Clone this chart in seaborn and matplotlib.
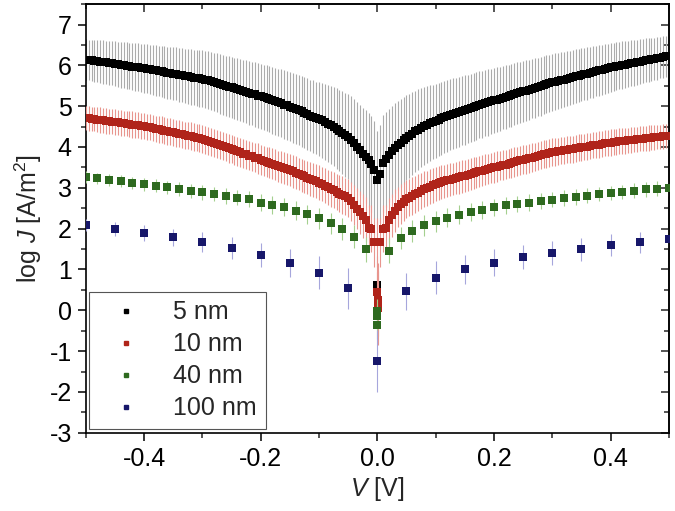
import numpy as np
import pandas as pd
import seaborn as sns
import matplotlib.pyplot as plt
from matplotlib.ticker import MultipleLocator, FormatStrFormatter
from matplotlib.lines import Line2D

# voltage sweeps
v_fine = np.round(np.arange(-100, 101) * 0.005, 3)   # 5 nm and 10 nm
v_40 = np.round(np.arange(-25, 26) * 0.02, 2)
v_100 = np.round(np.arange(-10, 11) * 0.05, 2)

j_5nm = [
    6.14, 6.13, 6.12, 6.11, 6.10, 6.09, 6.08, 6.07, 6.06, 6.05,
    6.04, 6.03, 6.01, 6.00, 5.99, 5.98, 5.97, 5.96, 5.95, 5.94,
    5.93, 5.92, 5.90, 5.89, 5.88, 5.86, 5.85, 5.84, 5.82, 5.81,
    5.80, 5.79, 5.77, 5.76, 5.74, 5.73, 5.72, 5.70, 5.69, 5.68,
    5.67, 5.65, 5.63, 5.61, 5.59, 5.57, 5.55, 5.52, 5.50, 5.48,
    5.46, 5.44, 5.42, 5.40, 5.37, 5.35, 5.33, 5.31, 5.29, 5.26,
    5.24, 5.22, 5.19, 5.17, 5.14, 5.12, 5.09, 5.07, 5.04, 5.02,
    4.99, 4.96, 4.93, 4.90, 4.87, 4.84, 4.80, 4.77, 4.74, 4.71,
    4.68, 4.65, 4.61, 4.57, 4.54, 4.50, 4.45, 4.40, 4.35, 4.30,
    4.25, 4.18, 4.10, 4.01, 3.92, 3.84, 3.76, 3.68, 3.58, 3.43,
    3.20,
    3.35, 3.60, 3.70, 3.80, 3.89, 3.97, 4.04, 4.10, 4.16, 4.23,
    4.28, 4.33, 4.38, 4.42, 4.47, 4.51, 4.55, 4.58, 4.61, 4.64,
    4.67, 4.70, 4.73, 4.76, 4.79, 4.81, 4.84, 4.86, 4.89, 4.91,
    4.93, 4.96, 4.98, 5.00, 5.03, 5.05, 5.07, 5.09, 5.12, 5.14,
    5.16, 5.18, 5.21, 5.23, 5.25, 5.27, 5.29, 5.32, 5.34, 5.36,
    5.38, 5.40, 5.43, 5.45, 5.47, 5.49, 5.51, 5.54, 5.56, 5.58,
    5.60, 5.62, 5.64, 5.65, 5.67, 5.69, 5.71, 5.73, 5.75, 5.77,
    5.78, 5.80, 5.82, 5.84, 5.86, 5.88, 5.89, 5.91, 5.93, 5.95,
    5.96, 5.98, 5.99, 6.01, 6.02, 6.03, 6.05, 6.06, 6.08, 6.09,
    6.10, 6.12, 6.13, 6.15, 6.16, 6.17, 6.19, 6.20, 6.22, 6.23,
]
err_5nm = [
    0.50, 0.50, 0.51, 0.51, 0.52, 0.52, 0.53, 0.53, 0.54, 0.54,
    0.55, 0.55, 0.56, 0.56, 0.57, 0.57, 0.58, 0.58, 0.59, 0.59,
    0.60, 0.60, 0.61, 0.61, 0.62, 0.62, 0.63, 0.63, 0.64, 0.64,
    0.65, 0.65, 0.66, 0.66, 0.67, 0.67, 0.68, 0.68, 0.69, 0.69,
    0.70, 0.70, 0.71, 0.71, 0.72, 0.72, 0.73, 0.73, 0.74, 0.74,
    0.75, 0.75, 0.76, 0.76, 0.77, 0.77, 0.78, 0.78, 0.79, 0.79,
    0.80, 0.80, 0.81, 0.81, 0.82, 0.82, 0.83, 0.83, 0.84, 0.84,
    0.85, 0.85, 0.86, 0.86, 0.87, 0.87, 0.88, 0.88, 0.89, 0.89,
    0.90, 0.91, 0.93, 0.94, 0.96, 0.97, 0.99, 1.00, 1.01, 1.03,
    1.04, 1.06, 1.07, 1.09, 1.10, 1.12, 1.14, 1.16, 1.18, 1.20,
    1.20,
    1.20, 1.18, 1.16, 1.14, 1.12, 1.10, 1.09, 1.07, 1.06, 1.04,
    1.03, 1.01, 1.00, 0.99, 0.97, 0.96, 0.94, 0.93, 0.91, 0.90,
    0.89, 0.89, 0.88, 0.88, 0.87, 0.87, 0.86, 0.86, 0.85, 0.85,
    0.84, 0.84, 0.83, 0.83, 0.82, 0.82, 0.81, 0.81, 0.80, 0.80,
    0.79, 0.79, 0.78, 0.78, 0.77, 0.77, 0.76, 0.76, 0.75, 0.75,
    0.74, 0.74, 0.73, 0.73, 0.72, 0.72, 0.71, 0.71, 0.70, 0.70,
    0.69, 0.69, 0.68, 0.68, 0.67, 0.67, 0.66, 0.66, 0.65, 0.65,
    0.64, 0.64, 0.63, 0.63, 0.62, 0.62, 0.61, 0.61, 0.60, 0.60,
    0.59, 0.59, 0.58, 0.58, 0.57, 0.57, 0.56, 0.56, 0.55, 0.55,
    0.54, 0.54, 0.53, 0.53, 0.52, 0.52, 0.51, 0.51, 0.50, 0.50,
]

j_10nm = [
    4.71, 4.70, 4.69, 4.68, 4.67, 4.66, 4.65, 4.64, 4.63, 4.62,
    4.61, 4.60, 4.59, 4.58, 4.57, 4.56, 4.55, 4.54, 4.53, 4.52,
    4.51, 4.49, 4.48, 4.46, 4.45, 4.43, 4.42, 4.40, 4.39, 4.37,
    4.36, 4.34, 4.32, 4.31, 4.29, 4.28, 4.26, 4.25, 4.23, 4.22,
    4.20, 4.17, 4.15, 4.12, 4.10, 4.07, 4.05, 4.02, 4.00, 3.97,
    3.95, 3.92, 3.89, 3.87, 3.84, 3.82, 3.79, 3.77, 3.74, 3.72,
    3.69, 3.66, 3.64, 3.61, 3.59, 3.56, 3.53, 3.51, 3.48, 3.46,
    3.43, 3.40, 3.37, 3.34, 3.31, 3.28, 3.25, 3.22, 3.19, 3.16,
    3.13, 3.09, 3.05, 3.01, 2.98, 2.94, 2.90, 2.86, 2.82, 2.79,
    2.75, 2.67, 2.58, 2.49, 2.40, 2.31, 2.22, 2.02, 2.00, 1.67,
    1.67,
    1.67, 2.00, 2.02, 2.20, 2.33, 2.44, 2.53, 2.60, 2.66, 2.72,
    2.76, 2.80, 2.84, 2.88, 2.92, 2.96, 2.99, 3.03, 3.06, 3.10,
    3.12, 3.14, 3.16, 3.18, 3.20, 3.22, 3.24, 3.26, 3.28, 3.30,
    3.32, 3.34, 3.36, 3.38, 3.40, 3.42, 3.44, 3.46, 3.48, 3.50,
    3.52, 3.54, 3.56, 3.57, 3.59, 3.61, 3.63, 3.65, 3.67, 3.69,
    3.70, 3.72, 3.74, 3.76, 3.78, 3.80, 3.82, 3.83, 3.85, 3.87,
    3.88, 3.89, 3.91, 3.92, 3.93, 3.94, 3.95, 3.97, 3.98, 3.99,
    4.00, 4.01, 4.03, 4.04, 4.05, 4.06, 4.07, 4.09, 4.10, 4.11,
    4.12, 4.13, 4.14, 4.14, 4.15, 4.16, 4.17, 4.18, 4.19, 4.20,
    4.20, 4.21, 4.22, 4.23, 4.24, 4.25, 4.25, 4.26, 4.27, 4.28,
]
err_10nm = [
    0.30, 0.30, 0.30, 0.30, 0.30, 0.31, 0.31, 0.31, 0.31, 0.31,
    0.31, 0.31, 0.31, 0.31, 0.31, 0.32, 0.32, 0.32, 0.32, 0.32,
    0.32, 0.32, 0.32, 0.32, 0.32, 0.32, 0.33, 0.33, 0.33, 0.33,
    0.33, 0.33, 0.33, 0.33, 0.33, 0.33, 0.34, 0.34, 0.34, 0.34,
    0.34, 0.34, 0.34, 0.34, 0.35, 0.35, 0.35, 0.35, 0.35, 0.35,
    0.35, 0.35, 0.36, 0.36, 0.36, 0.36, 0.36, 0.36, 0.36, 0.37,
    0.37, 0.37, 0.37, 0.38, 0.38, 0.38, 0.38, 0.39, 0.39, 0.39,
    0.39, 0.40, 0.40, 0.40, 0.40, 0.41, 0.41, 0.41, 0.41, 0.42,
    0.42, 0.42, 0.43, 0.43, 0.44, 0.44, 0.45, 0.45, 0.46, 0.46,
    0.47, 0.48, 0.49, 0.50, 0.52, 0.53, 0.55, 0.57, 0.58, 0.60,
    0.60,
    0.60, 0.58, 0.57, 0.55, 0.53, 0.52, 0.50, 0.49, 0.48, 0.47,
    0.46, 0.46, 0.45, 0.45, 0.44, 0.44, 0.43, 0.43, 0.42, 0.42,
    0.42, 0.41, 0.41, 0.41, 0.41, 0.40, 0.40, 0.40, 0.40, 0.39,
    0.39, 0.39, 0.39, 0.38, 0.38, 0.38, 0.38, 0.37, 0.37, 0.37,
    0.37, 0.36, 0.36, 0.36, 0.36, 0.36, 0.36, 0.36, 0.35, 0.35,
    0.35, 0.35, 0.35, 0.35, 0.34, 0.34, 0.34, 0.34, 0.34, 0.34,
    0.34, 0.34, 0.33, 0.33, 0.33, 0.33, 0.33, 0.33, 0.33, 0.33,
    0.33, 0.33, 0.32, 0.32, 0.32, 0.32, 0.32, 0.32, 0.32, 0.32,
    0.32, 0.32, 0.32, 0.32, 0.32, 0.31, 0.31, 0.31, 0.31, 0.31,
    0.31, 0.31, 0.31, 0.31, 0.31, 0.30, 0.30, 0.30, 0.30, 0.30,
]

j_40nm = [
    3.27, 3.23, 3.20, 3.16, 3.12, 3.09, 3.05, 3.01, 2.97, 2.93,
    2.89, 2.85, 2.80, 2.76, 2.72, 2.64, 2.58, 2.52, 2.44, 2.35,
    2.25, 2.13, 1.99, 1.80, 1.49,
    -0.35,
    1.46, 1.77, 1.95, 2.08, 2.18, 2.27, 2.34, 2.41, 2.46, 2.52,
    2.57, 2.60, 2.64, 2.68, 2.71, 2.75, 2.78, 2.81, 2.85, 2.87,
    2.90, 2.93, 2.96, 2.98, 2.99,
]
err_40nm = [
    0.14, 0.14, 0.15, 0.15, 0.15, 0.16, 0.16, 0.16, 0.17, 0.17,
    0.18, 0.18, 0.19, 0.19, 0.20, 0.21, 0.21, 0.22, 0.23, 0.24,
    0.25, 0.26, 0.27, 0.28, 0.30,
    0.35,
    0.30, 0.28, 0.27, 0.26, 0.25, 0.24, 0.23, 0.22, 0.22, 0.21,
    0.21, 0.20, 0.20, 0.20, 0.19, 0.19, 0.19, 0.19, 0.18, 0.18,
    0.18, 0.18, 0.18, 0.18, 0.18,
]

j_100nm = [2.09, 1.99, 1.90, 1.79, 1.67, 1.53, 1.36, 1.16, 0.92, 0.54,
           -1.24,
           0.47, 0.80, 1.00, 1.17, 1.30, 1.41, 1.50, 1.59, 1.67, 1.75]
err_100nm = [0.15, 0.17, 0.19, 0.21, 0.24, 0.27, 0.30, 0.34, 0.40, 0.50,
             0.75,
             0.45, 0.40, 0.36, 0.32, 0.30, 0.29, 0.28, 0.27, 0.26, 0.25]

# extra points recorded right at V = 0
v0_5nm, j0_5nm, e0_5nm = [0.0], [0.63], [0.3]
v0_10nm, j0_10nm, e0_10nm = [-0.001, 0.001, 0.002], [0.44, 0.26, 0.06], [0.9, 0.9, 0.9]
v0_40nm, j0_40nm, e0_40nm = [0.0, 0.0], [-0.02, -0.15], [0.3, 0.3]

labels = ["5 nm", "10 nm", "40 nm", "100 nm"]
marker_colors = ["#000000", "#b0241a", "#2e6a1f", "#17176a"]
err_colors = ["#ababab", "#e8958e", "#a4d08f", "#a6a6dc"]
marker_sizes = [32, 38, 28, 28]

sns.set_theme(style="ticks")
plt.rcParams['font.family'] = ['Liberation Sans', 'DejaVu Sans']
plt.rcParams['mathtext.fontset'] = 'custom'
plt.rcParams['mathtext.rm'] = 'Liberation Sans'
plt.rcParams['mathtext.it'] = 'Liberation Sans:italic'
plt.rcParams['axes.unicode_minus'] = False

fig = plt.figure(figsize=(6.75, 5.11), dpi=100)
ax = fig.add_axes([0.127, 0.153, 0.864, 0.839])

series = [
    (list(v_fine) + v0_5nm, j_5nm + j0_5nm, err_5nm + e0_5nm),
    (list(v_fine) + v0_10nm, j_10nm + j0_10nm, err_10nm + e0_10nm),
    (list(v_40) + v0_40nm, j_40nm + j0_40nm, err_40nm + e0_40nm),
    (list(v_100), j_100nm, err_100nm),
]

for k, ((v, j, e), lab, ec) in enumerate(zip(series, labels, err_colors)):
    ax.errorbar(v, j, yerr=e, fmt='none', ecolor=ec, elinewidth=0.8,
                capsize=0, zorder=1 + 2 * k)
    sub = pd.DataFrame({'V': v, 'J': j})
    sns.scatterplot(data=sub, x='V', y='J', color=marker_colors[k],
                    marker='s', s=marker_sizes[k], linewidth=0,
                    legend=False, ax=ax, zorder=2 + 2 * k)

ax.set_xlim(-0.5, 0.5)
ax.set_ylim(-3, 7.5)
ax.xaxis.set_major_locator(MultipleLocator(0.2))
ax.xaxis.set_minor_locator(MultipleLocator(0.1))
ax.xaxis.set_major_formatter(FormatStrFormatter('%.1f'))
ax.yaxis.set_major_locator(MultipleLocator(1))
ax.yaxis.set_minor_locator(MultipleLocator(0.5))
ax.tick_params(which='major', direction='out', length=6, width=1.1,
               labelsize=18, colors='black', pad=4)
ax.tick_params(which='minor', direction='out', length=3.5, width=1.1)

secx = ax.secondary_xaxis('top')
secx.xaxis.set_major_locator(MultipleLocator(0.2))
secx.xaxis.set_minor_locator(MultipleLocator(0.1))
secx.tick_params(which='major', direction='in', length=6, width=1.1, labeltop=False)
secx.tick_params(which='minor', direction='in', length=3.5, width=1.1)
secy = ax.secondary_yaxis('right')
secy.yaxis.set_major_locator(MultipleLocator(1))
secy.yaxis.set_minor_locator(MultipleLocator(0.5))
secy.tick_params(which='major', direction='in', length=6, width=1.1, labelright=False)
secy.tick_params(which='minor', direction='in', length=3.5, width=1.1)

for sp in ax.spines.values():
    sp.set_linewidth(1.2)
    sp.set_color('black')

ax.set_xlabel(r'$V$ [V]', fontsize=18, labelpad=3)
ax.set_ylabel(r'log $J$ [A/m$^2$]', fontsize=18, labelpad=4)

handles = [Line2D([], [], marker='s', ls='none', color=c, markersize=3.2)
           for c in marker_colors]
leg = ax.legend(handles, labels, loc='lower left', fontsize=18,
                frameon=True, fancybox=False, framealpha=1,
                edgecolor='#555555', handlelength=2.2, handletextpad=0.8,
                labelspacing=0.32, borderpad=0.35, borderaxespad=0.15,
                bbox_to_anchor=(0.0, 0.0))
leg.get_frame().set_linewidth(0.8)

fig.savefig('out.png', dpi=100)
